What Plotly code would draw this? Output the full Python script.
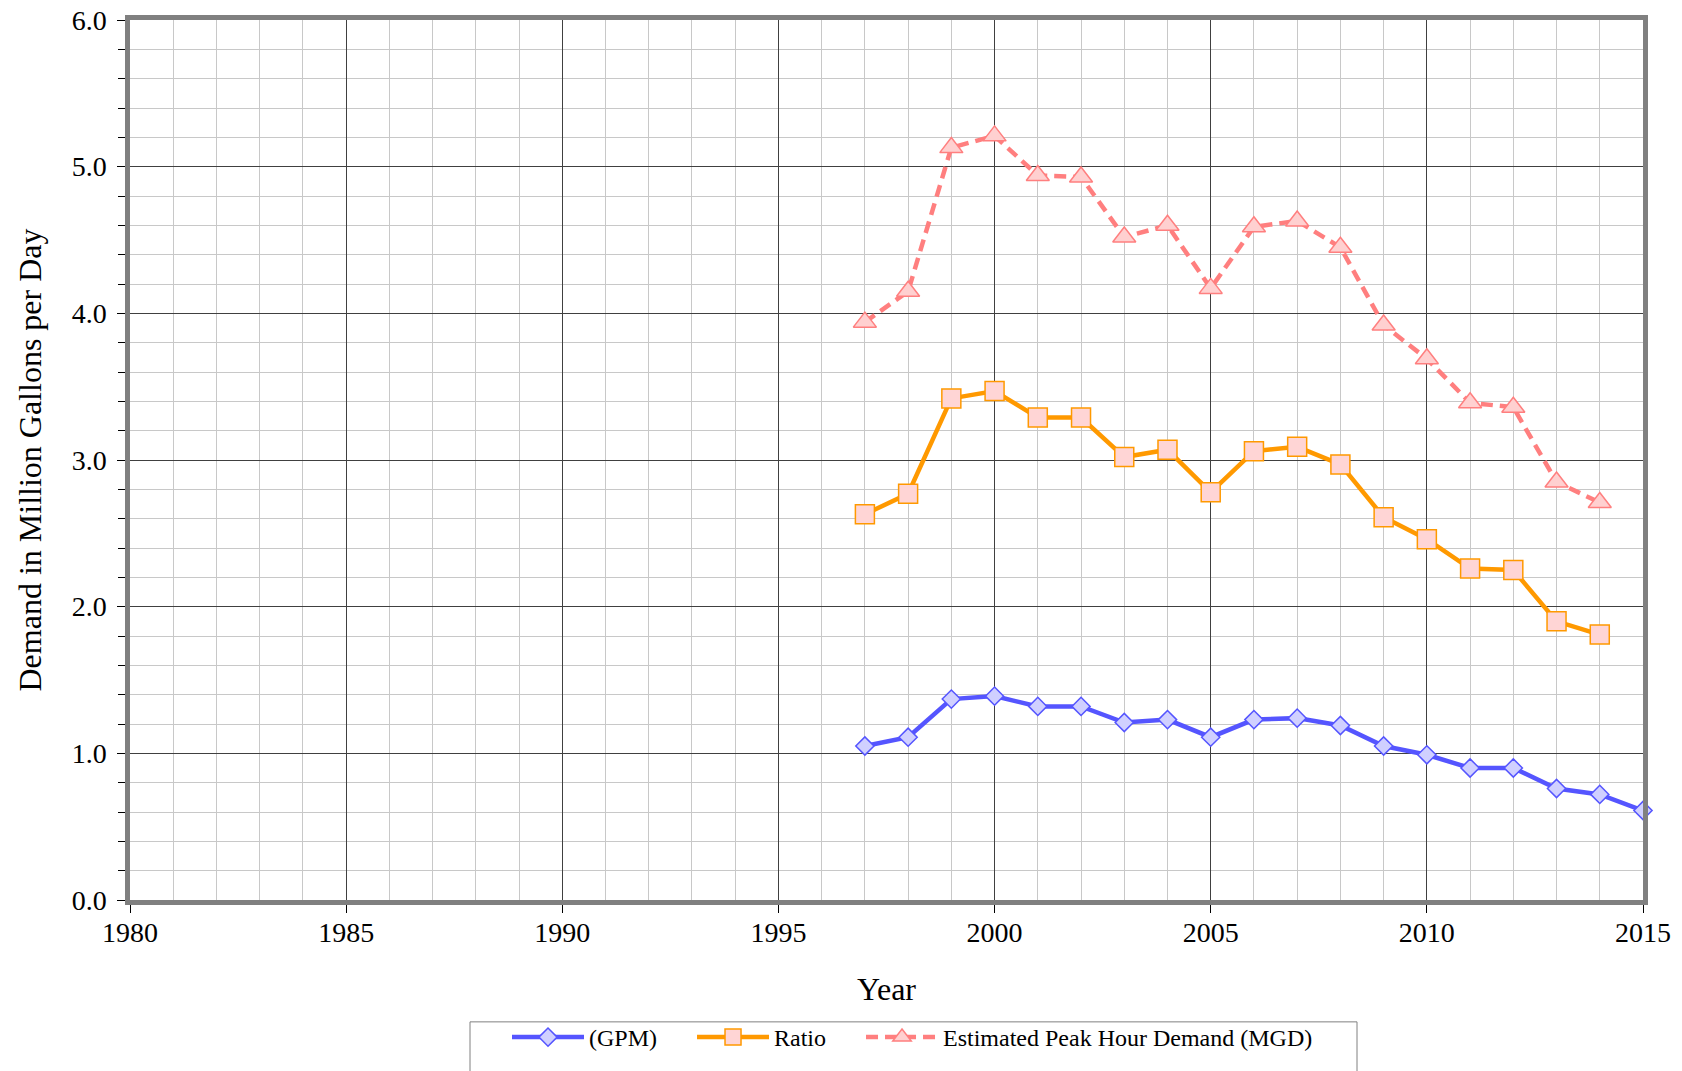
import plotly.graph_objects as go

# Annual demand series
years = [1997, 1998, 1999, 2000, 2001, 2002, 2003, 2004, 2005, 2006, 2007,
         2008, 2009, 2010, 2011, 2012, 2013, 2014, 2015]
gpm = [1.05, 1.11, 1.37, 1.39, 1.32, 1.32, 1.21, 1.23, 1.11, 1.23, 1.24,
       1.19, 1.05, 0.99, 0.90, 0.90, 0.76, 0.72, 0.61]
ratio = [2.63, 2.77, 3.42, 3.47, 3.29, 3.29, 3.02, 3.07, 2.78, 3.06, 3.09,
         2.97, 2.61, 2.46, 2.26, 2.25, 1.90, 1.81]
peak_hour = [3.94, 4.15, 5.13, 5.21, 4.94, 4.93, 4.52, 4.60, 4.17, 4.59, 4.63,
             4.45, 3.92, 3.69, 3.39, 3.36, 2.85, 2.71]

series_names = ["(GPM)", "Ratio", "Estimated Peak Hour Demand (MGD)"]

x_ticks = [1980, 1985, 1990, 1995, 2000, 2005, 2010, 2015]
y_ticks = [0, 1, 2, 3, 4, 5, 6]

FONT = "Liberation Serif, Times New Roman, serif"
PAD = "\u00a0" * 5  # extra room between legend entries

# page / plot-area geometry in pixels
W, H = 1682, 1071
L, R, T, B = 130, 39, 20, 170
PW, PH = W - L - R, H - T - B


def px_x(px):
    return (px - L) / PW


def px_y(py):
    return (H - B - py) / PH


fig = go.Figure()

fig.add_trace(go.Scatter(
    x=years, y=gpm, name=series_names[0] + PAD, mode="lines+markers", cliponaxis=False,
    line=dict(color="#5555FF", width=4.5),
    marker=dict(symbol="diamond", size=14, color="#D0D0FF",
                line=dict(color="#5555FF", width=1.5)),
))
fig.add_trace(go.Scatter(
    x=years[:len(ratio)], y=ratio, name=series_names[1] + PAD, mode="lines+markers",
    cliponaxis=False,
    line=dict(color="#FF9900", width=4.5),
    marker=dict(symbol="square", size=19, color="#FFD5D5",
                line=dict(color="#FF9900", width=1.5)),
))
fig.add_trace(go.Scatter(
    x=years[:len(peak_hour)], y=peak_hour, name=series_names[2],
    mode="lines+markers", cliponaxis=False,
    line=dict(color="#FF7F7F", width=4.5, dash="12px,7px"),
    marker=dict(symbol="triangle-up", size=20, color="#FFD0D0",
                line=dict(color="#FF7F7F", width=1.5)),
))

# legend frame (open at the bottom edge of the page)
fig.add_shape(
    type="rect", xref="paper", yref="paper",
    x0=px_x(470), x1=px_x(1357), y0=px_y(1080), y1=px_y(1023),
    line=dict(color="#808080", width=1), fillcolor="rgba(0,0,0,0)", layer="above",
)

fig.update_layout(
    width=W, height=H,
    margin=dict(l=L, r=R, t=T, b=B),
    paper_bgcolor="white", plot_bgcolor="white",
    font=dict(family=FONT, size=24, color="black"),
    showlegend=True,
    legend=dict(
        orientation="h", x=px_x(507), xanchor="left", y=px_y(1015), yanchor="top",
        borderwidth=0, bgcolor="rgba(0,0,0,0)",
        font=dict(family=FONT, size=24, color="black"),
        itemwidth=72,
    ),
)

fig.update_xaxes(
    range=[1980, 2015], tickvals=x_ticks, ticktext=[str(v) for v in x_ticks],
    showgrid=True, gridcolor="#404040", gridwidth=1,
    minor=dict(dtick=1, showgrid=True, gridcolor="#C8C8C8", gridwidth=1),
    showline=True, linecolor="#808080", linewidth=4.5, mirror=True,
    ticks="outside", ticklen=8, tickcolor="black", tickwidth=1,
    ticklabelstandoff=-4, automargin=False,
    zeroline=False,
    title=dict(text="Year", font=dict(family=FONT, size=32), standoff=32),
    tickfont=dict(family=FONT, size=28),
)
fig.update_yaxes(
    range=[0, 6], tickvals=y_ticks, tickformat=".1f",
    showgrid=True, gridcolor="#404040", gridwidth=1,
    minor=dict(dtick=0.2, showgrid=True, gridcolor="#C8C8C8", gridwidth=1,
               ticks="outside", ticklen=7, tickcolor="black"),
    showline=True, linecolor="#808080", linewidth=4.5, mirror=True,
    ticks="outside", ticklen=8, tickcolor="black", tickwidth=1,
    ticklabelstandoff=5, automargin=False,
    zeroline=False,
    title=dict(text="Demand in Million Gallons per Day", font=dict(family=FONT, size=32),
               standoff=22),
    tickfont=dict(family=FONT, size=28),
)

fig.write_html("out.html")
